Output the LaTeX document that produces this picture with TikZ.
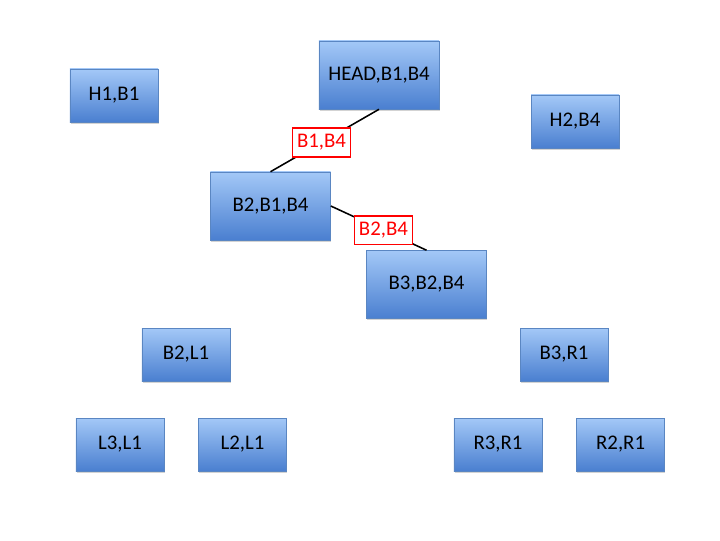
\documentclass[tikz,border=0pt]{standalone}
\usepackage{fontspec}
\setmainfont{Carlito}
\usetikzlibrary{positioning,shadows}
\definecolor{boxtop}{HTML}{A3C8F7}
\definecolor{boxbot}{HTML}{4A7FD0}
\definecolor{boxline}{HTML}{5A86C2}

\begin{document}
\begin{tikzpicture}[x=0.025cm, y=-0.025cm, node distance=8.5mm,
					box/.style={draw=boxline, rectangle, top color=boxtop, bottom color=boxbot, minimum width=2.2cm, minimum height=1.325cm, align=center, font=\fontsize{14.8}{17}\selectfont, drop shadow={shadow xshift=0.4pt, shadow yshift=-1.2pt, opacity=0.35}},
					bigbox/.style={box, minimum width=3cm, minimum height=1.7cm},
					tag/.style={draw=red, fill=white, text=red, rectangle, minimum width=1.45cm, minimum height=0.72cm, inner sep=1pt, font=\fontsize{14.8}{17}\selectfont},
					link/.style={line width=1.1pt}]
					\useasboundingbox (0,0) rectangle (720,540);
					\node[bigbox] (head) at (379,75) {HEAD,B1,B4};
					\node[box] (h1b1) at (114,95.5) {H1,B1};
					\node[box] (h2b4) at (575,121.5) {H2,B4};
					\node[bigbox] (b2b1b4) at (270.5,206) {B2,B1,B4};
					\node[bigbox] (b3b2b4) at (426.5,284.5) {B3,B2,B4};
					
					\node[box] (b2l1) at (186,354.5) {B2,L1};
					\node[box] (b3r1) at (564,354.5) {B3,R1};
					\node[box] (l3l1) at (120,444.5) {L3,L1};
					\node[box, right=of l3l1] (l2l1) {L2,L1};
					\node[box] (r3r1) at (498,444.5) {R3,R1};
					\node[box, right=of r3r1] (r2r1) {R2,R1};
					
					\draw[link] (head.south) -- (b2b1b4.north) node[tag, pos=0.53] (tagone) {B1,B4};
					\draw[link] (b2b1b4.east) -- (b3b2b4.north) node[tag, pos=0.55] (tagtwo) {B2,B4};
				\end{tikzpicture}
\end{document}
